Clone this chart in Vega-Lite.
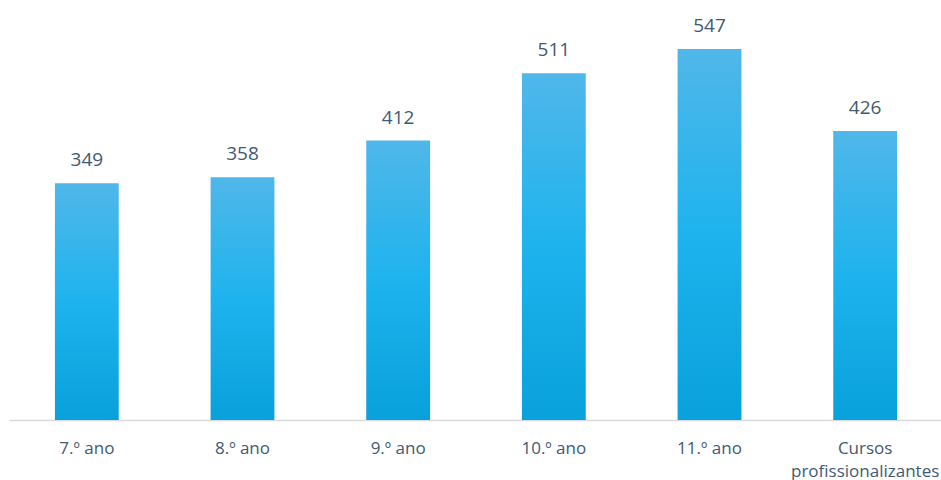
{
  "$schema": "https://vega.github.io/schema/vega-lite/v6.json",
  "width": 934,
  "height": 407,
  "autosize": {"type": "none"},
  "padding": {"left": 9, "top": 13, "right": 0, "bottom": 60},
  "background": "white",
  "config": {"view": {"stroke": null}, "font": "Open Sans"},
  "data": {
    "values": [
      {"categoria": "7.º ano", "valor": 349},
      {"categoria": "8.º ano", "valor": 358},
      {"categoria": "9.º ano", "valor": 412},
      {"categoria": "10.º ano", "valor": 511},
      {"categoria": "11.º ano", "valor": 547},
      {"categoria": "Cursos profissionalizantes", "valor": 426}
    ]
  },
  "encoding": {
    "x": {
      "field": "categoria",
      "type": "nominal",
      "sort": null,
      "scale": {"paddingInner": 0.59, "paddingOuter": 0.295},
      "axis": {
        "title": null,
        "labelAngle": 0,
        "ticks": false,
        "domainColor": "#D9D9D9",
        "domainWidth": 1.5,
        "labelColor": "#3F5A72",
        "labelFont": "Open Sans",
        "labelFontSize": 17,
        "labelPadding": 20,
        "labelLineHeight": 23,
        "labelLimit": 0,
        "labelExpr": "datum.value == 'Cursos profissionalizantes' ? ['Cursos', 'profissionalizantes'] : datum.value"
      }
    },
    "y": {
      "field": "valor",
      "type": "quantitative",
      "scale": {"domain": [0, 600], "nice": false},
      "axis": null
    }
  },
  "layer": [
    {
      "mark": {
        "type": "bar",
        "color": {
          "gradient": "linear",
          "x1": 0, "y1": 0, "x2": 0, "y2": 1,
          "stops": [
            {"offset": 0, "color": "#50B7E9"},
            {"offset": 0.5, "color": "#1EB3EE"},
            {"offset": 1, "color": "#08A1DB"}
          ]
        }
      }
    },
    {
      "mark": {
        "type": "text",
        "baseline": "alphabetic",
        "dy": -17,
        "fontSize": 19,
        "font": "Open Sans",
        "color": "#3F5A72"
      },
      "encoding": {"text": {"field": "valor", "type": "quantitative"}}
    }
  ]
}
